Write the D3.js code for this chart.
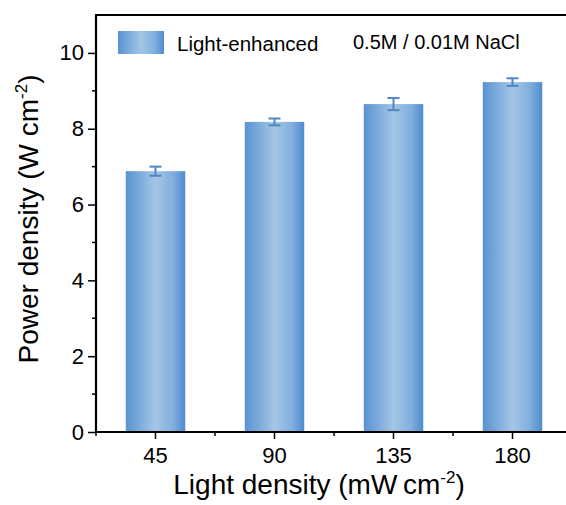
<!DOCTYPE html>
<html>
<head>
<meta charset="utf-8">
<script src="https://cdn.jsdelivr.net/npm/d3@7"></script>
<style>
  html, body { margin: 0; padding: 0; background: #fff; }
  svg text { font-family: "Liberation Sans", Arial, sans-serif; fill: #000; }
</style>
</head>
<body>
<svg id="chart" width="566" height="505"></svg>
<script>
// Light intensity categories (mW cm^-2)
const categories = ["45", "90", "135", "180"];
// Power density under illumination (W cm^-2) and its error
const powerValues = [6.88, 8.18, 8.65, 9.23];
const powerErrors = [0.12, 0.09, 0.16, 0.10];
const yTicks = [0, 2, 4, 6, 8, 10];
const yMinorTicks = [1, 3, 5, 7, 9];

const svg = d3.select("#chart");
const margin = { left: 96, top: 15, bottom: 432, right: 572 };

const x = d3.scaleBand()
  .domain(categories)
  .range([margin.left, margin.right])
  .paddingInner(0.5)
  .paddingOuter(0.25);

const y = d3.scaleLinear().domain([0, 11]).range([margin.bottom, margin.top]);

// Horizontal shading for bars and the legend swatch
const defs = svg.append("defs");
const grad = defs.append("linearGradient").attr("id", "barGrad")
  .attr("x1", "0%").attr("x2", "100%").attr("y1", "0%").attr("y2", "0%");
[["0%", "#5a93d1"], ["15%", "#6ea2d8"], ["50%", "#a5c6e5"], ["80%", "#80aedc"], ["100%", "#4e8bd2"]]
  .forEach(([o, c]) => grad.append("stop").attr("offset", o).attr("stop-color", c));

// Bars
svg.append("g").selectAll("rect")
  .data(categories)
  .join("rect")
  .attr("x", d => x(d))
  .attr("width", x.bandwidth())
  .attr("y", (d, i) => y(powerValues[i]))
  .attr("height", (d, i) => y(0) - y(powerValues[i]))
  .attr("fill", "url(#barGrad)");

// Error bars
const eb = svg.append("g").attr("stroke", "#4f86c6").attr("stroke-width", 2);
categories.forEach((c, i) => {
  const cx = x(c) + x.bandwidth() / 2;
  const hi = y(powerValues[i] + powerErrors[i]);
  const lo = y(powerValues[i] - powerErrors[i]);
  eb.append("line").attr("x1", cx).attr("x2", cx).attr("y1", hi).attr("y2", lo);
  eb.append("line").attr("x1", cx - 6).attr("x2", cx + 6).attr("y1", hi).attr("y2", hi);
  eb.append("line").attr("x1", cx - 6).attr("x2", cx + 6).attr("y1", lo).attr("y2", lo);
});

// Y axis
const yAxis = svg.append("g").attr("transform", `translate(${margin.left},0)`)
  .call(d3.axisLeft(y).tickValues(yTicks).tickSize(8).tickPadding(4).tickFormat(d3.format("d")));
yAxis.select(".domain").remove();
yAxis.selectAll(".tick line").attr("stroke", "#000").attr("stroke-width", 1.5);
yAxis.selectAll(".tick text").attr("font-size", 22);
svg.append("g").selectAll("line").data(yMinorTicks).join("line")
  .attr("x1", margin.left - 4).attr("x2", margin.left)
  .attr("y1", d => y(d)).attr("y2", d => y(d))
  .attr("stroke", "#000").attr("stroke-width", 1.5);

// X axis
const xAxis = svg.append("g").attr("transform", `translate(0,${margin.bottom})`)
  .call(d3.axisBottom(x).tickSize(7).tickPadding(8));
xAxis.select(".domain").remove();
xAxis.selectAll(".tick line").attr("stroke", "#000").attr("stroke-width", 1.5);
xAxis.selectAll(".tick text").attr("font-size", 22);
// Minor ticks at category boundaries
svg.append("g").selectAll("line").data(categories).join("line")
  .attr("x1", d => x(d) - x.step() * x.paddingInner() / 2)
  .attr("x2", d => x(d) - x.step() * x.paddingInner() / 2)
  .attr("y1", margin.bottom).attr("y2", margin.bottom + 4)
  .attr("stroke", "#000").attr("stroke-width", 1.5);

// Frame lines
const frame = svg.append("g").attr("stroke", "#000").attr("stroke-width", 2.2).attr("fill", "none");
frame.append("line").attr("x1", margin.left).attr("x2", margin.left).attr("y1", margin.top).attr("y2", margin.bottom + 1);
frame.append("line").attr("x1", margin.left - 1).attr("x2", margin.right).attr("y1", margin.bottom).attr("y2", margin.bottom);
frame.append("line").attr("x1", margin.left - 1).attr("x2", margin.right).attr("y1", margin.top).attr("y2", margin.top);

// Axis titles
const xt = svg.append("text").attr("x", 319).attr("y", 494).attr("text-anchor", "middle").attr("font-size", 28);
xt.append("tspan").text("Light density (mW\u2009cm");
xt.append("tspan").attr("font-size", 17).attr("dy", -11).text("-2");
xt.append("tspan").attr("dy", 11).text(")");

const yt = svg.append("text").attr("transform", "translate(38,219) rotate(-90)").attr("text-anchor", "middle").attr("font-size", 28);
yt.append("tspan").text("Power density (W cm");
yt.append("tspan").attr("font-size", 17).attr("dy", -11).text("-2");
yt.append("tspan").attr("dy", 11).text(")");

// Legend
svg.append("rect").attr("x", 118).attr("y", 31).attr("width", 46).attr("height", 23).attr("fill", "url(#barGrad)");
svg.append("text").attr("x", 177).attr("y", 51).attr("font-size", 20.5).text("Light-enhanced");
svg.append("text").attr("x", 353).attr("y", 49).attr("font-size", 20).text("0.5M / 0.01M NaCl");
</script>
</body>
</html>
